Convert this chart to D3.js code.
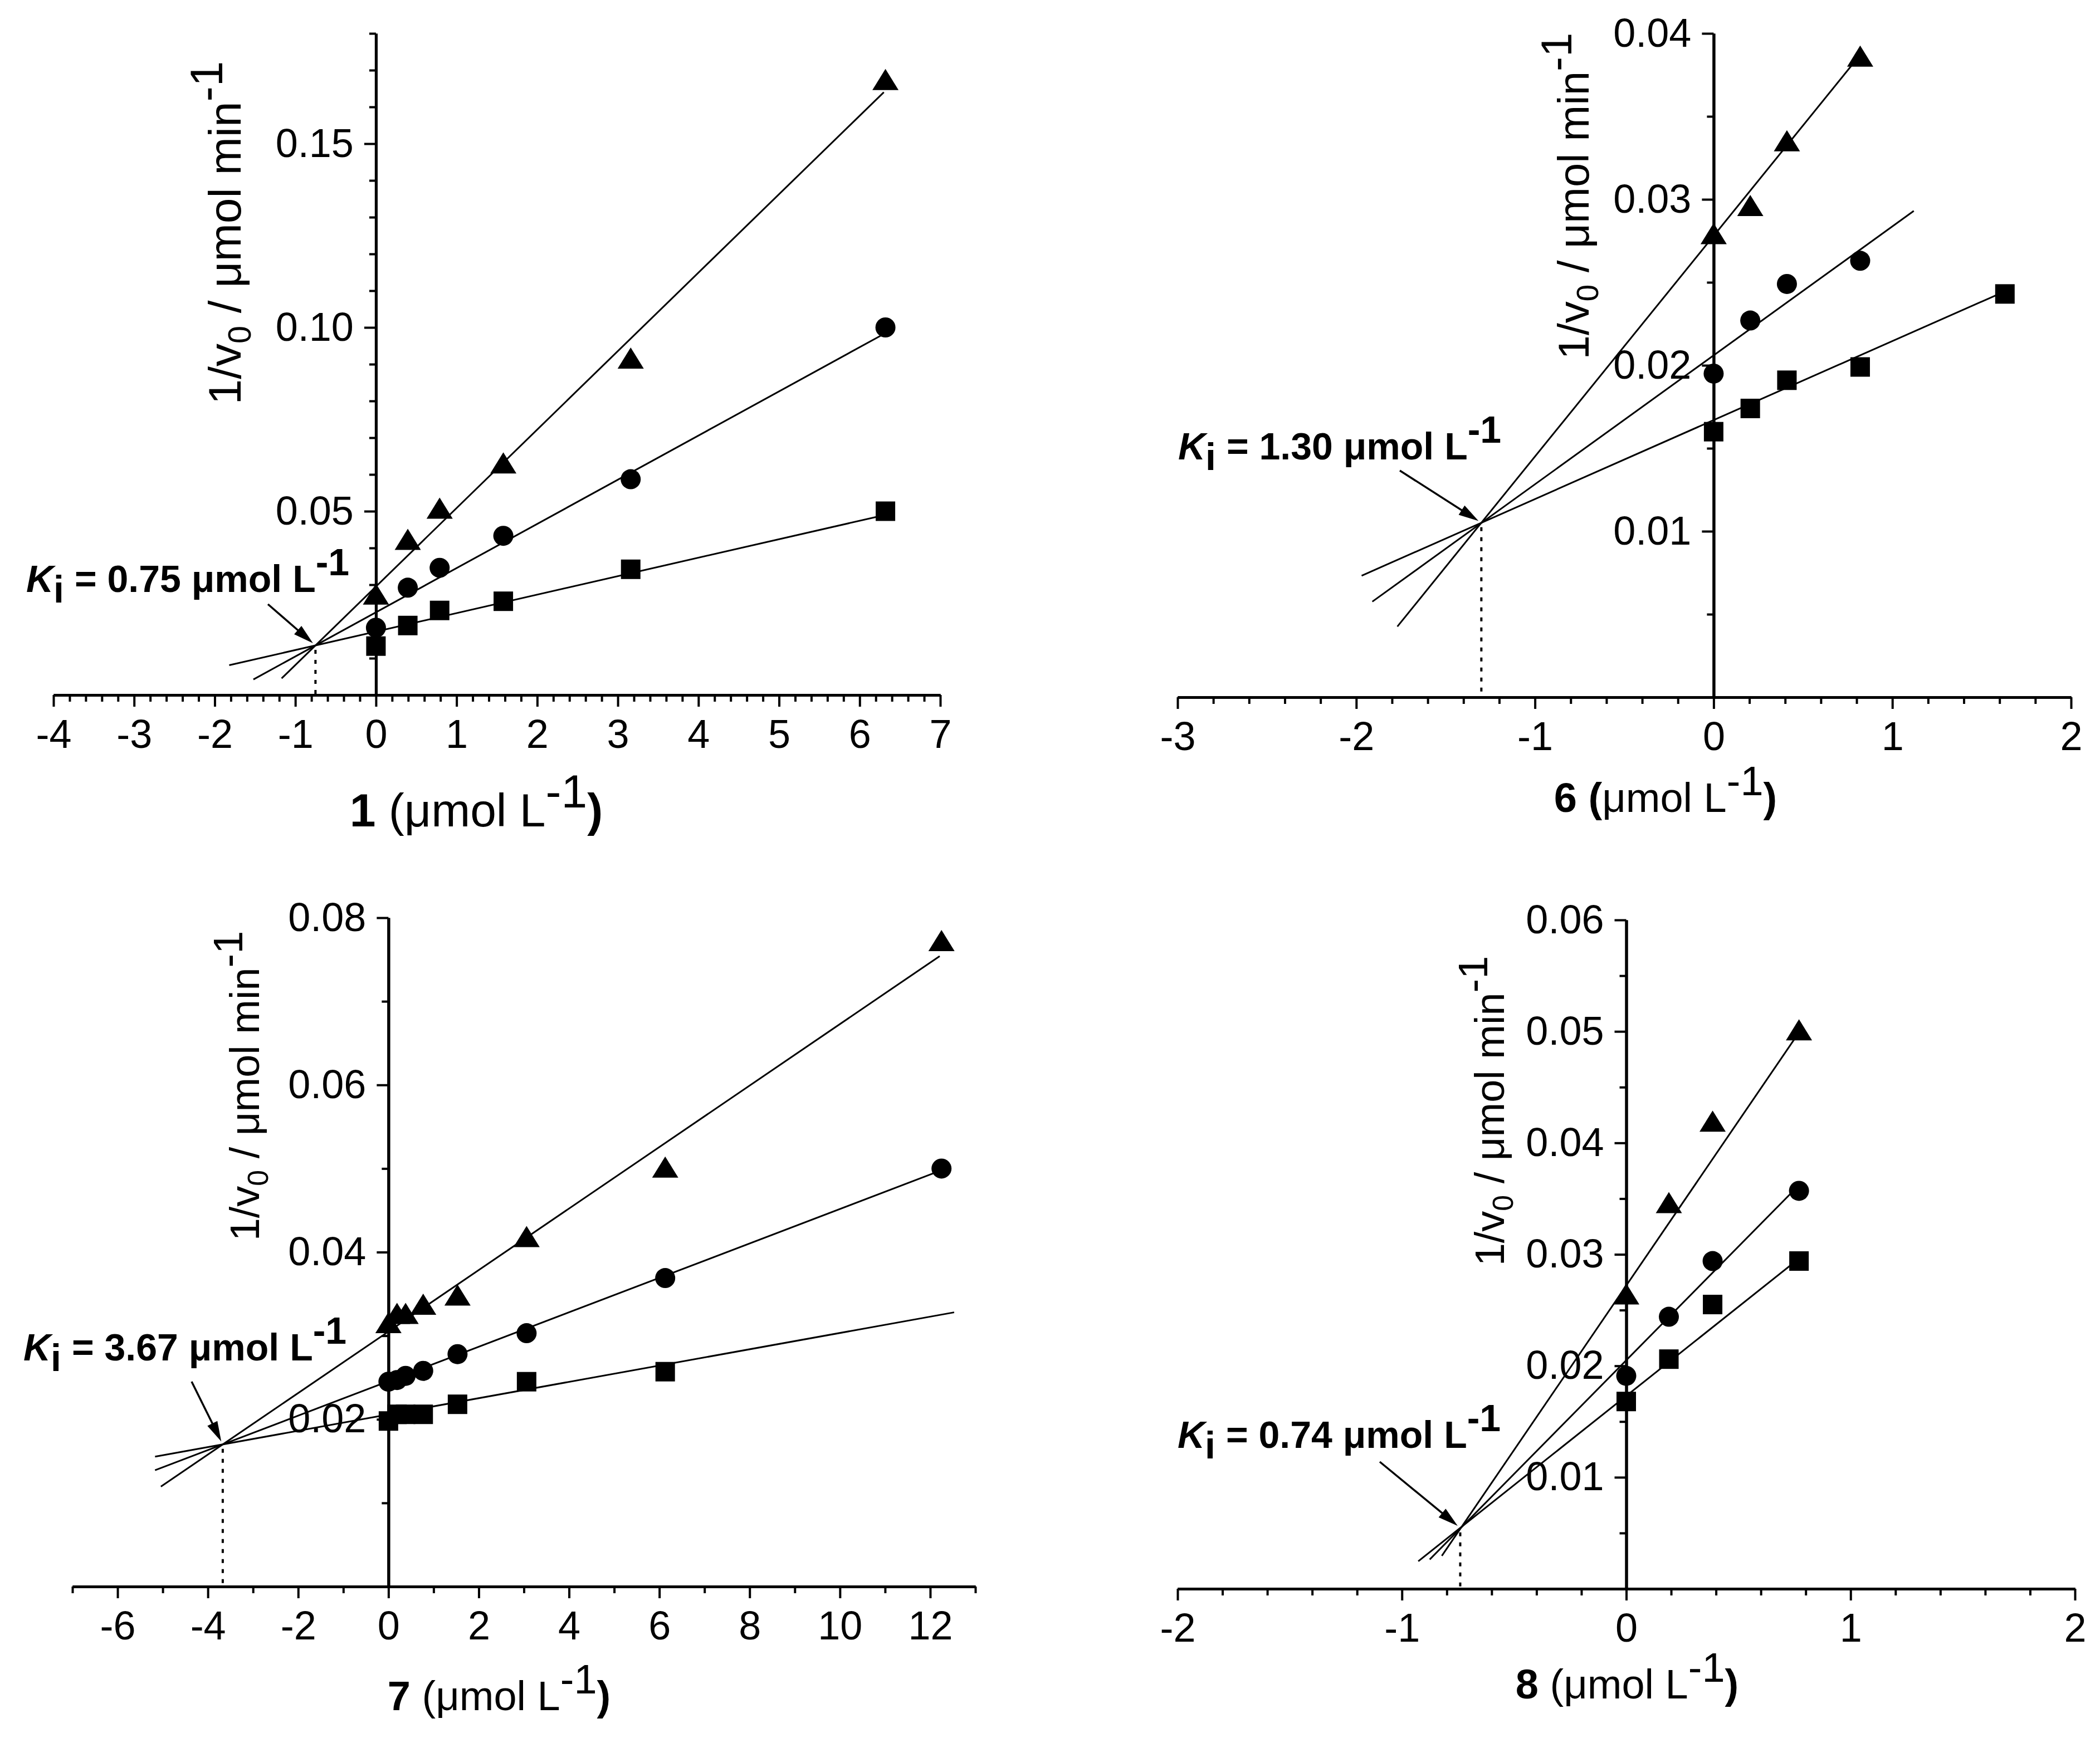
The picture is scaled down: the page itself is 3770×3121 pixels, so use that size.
<!DOCTYPE html>
<html>
<head>
<meta charset="utf-8">
<script src="https://cdn.jsdelivr.net/npm/d3@7"></script>
<style>
  body { margin: 0; background: #fff; }
  text { font-family: "Liberation Sans", Arial, Helvetica, sans-serif; }
</style>
</head>
<body>
<svg id="chart" width="3770" height="3121"></svg>
<script>
// ---- data (1/v0 vs inhibitor concentration) ----
// compound 1
const p1Conc = [0, 0.395, 0.79, 1.58, 3.16, 6.32];
const p1Tri = [0.0273, 0.0422, 0.0507, 0.0630, 0.0915, 0.1673];
const p1Cir = [0.0183, 0.0292, 0.0346, 0.0433, 0.0587, 0.1000];
const p1Sq = [0.0133, 0.0189, 0.0230, 0.0255, 0.0342, 0.0500];
const p1Slope = [0.02135, 0.01202, 0.005025];
const p1Icpt = [0.0295, 0.0225, 0.01725];
const p1From = [-1.17, -1.52, -1.82];
const p1To = [6.3, 6.3, 6.3];
const p1XTicks = [-4, -3, -2, -1, 0, 1, 2, 3, 4, 5, 6, 7];
const p1YTicks = [0.05, 0.10, 0.15];

// compound 6
const p6Conc = [0, 0.205, 0.41, 0.82, 1.63];
const p6Tri = [0.0279, 0.0296, 0.0335, 0.0386];
const p6Cir = [0.0195, 0.0227, 0.0249, 0.0263];
const p6Sq = [0.0160, 0.0174, 0.0191, 0.0199, 0.0243];
const p6Slope = [0.0133, 0.00777, 0.00476];
const p6Icpt = [0.0278, 0.0206, 0.0167];
const p6From = [-1.77, -1.91, -1.97];
const p6To = [0.82, 1.12, 1.62];
const p6XTicks = [-3, -2, -1, 0, 1, 2];
const p6YTicks = [0.01, 0.02, 0.03, 0.04];

// compound 7
const p7Conc = [0, 0.19, 0.38, 0.77, 1.53, 3.06, 6.13, 12.25];
const p7Tri = [0.0315, 0.0326, 0.0326, 0.0337, 0.0348, 0.0418, 0.0501, 0.0772];
const p7Cir = [0.0245, 0.0247, 0.0252, 0.0258, 0.0278, 0.0303, 0.0369, 0.0500];
const p7Sq = [0.0198, 0.0206, 0.0206, 0.0206, 0.0218, 0.0245, 0.0257];
const p7Slope = [0.003678, 0.00206, 0.000975];
const p7Icpt = [0.0305, 0.02456, 0.02058];
const p7From = [-5.04, -5.17, -5.17];
const p7To = [12.21, 12.21, 12.53];
const p7XTicks = [-6, -4, -2, 0, 2, 4, 6, 8, 10, 12];
const p7YTicks = [0.02, 0.04, 0.06, 0.08];

// compound 8
const p8Conc = [0, 0.19, 0.385, 0.77];
const p8Tri = [0.0264, 0.0346, 0.0419, 0.0501];
const p8Cir = [0.0191, 0.0244, 0.0294, 0.0357];
const p8Sq = [0.0168, 0.0206, 0.0255, 0.0294];
const p8Slope = [0.0295, 0.0204, 0.016];
const p8Icpt = [0.0272, 0.0205, 0.0173];
const p8From = [-0.822, -0.876, -0.927];
const p8To = [0.768, 0.768, 0.768];
const p8XTicks = [-2, -1, 0, 1, 2];
const p8YTicks = [0.01, 0.02, 0.03, 0.04, 0.05, 0.06];

const kiValues = [0.75, 1.30, 3.67, 0.74];
const kiLabels = ["0.75", "1.30", "3.67", "0.74"];
const compounds = ["1", "6", "7", "8"];

const panels = [
  { conc: p1Conc, tri: p1Tri, cir: p1Cir, sq: p1Sq, slope: p1Slope, icpt: p1Icpt, from: p1From, to: p1To,
    xTicks: p1XTicks, yTicks: p1YTicks, xDomain: [-4, 7], yDomain: [0, 0.18], xMinor: 0.2, yMinor: 0.01 },
  { conc: p6Conc, tri: p6Tri, cir: p6Cir, sq: p6Sq, slope: p6Slope, icpt: p6Icpt, from: p6From, to: p6To,
    xTicks: p6XTicks, yTicks: p6YTicks, xDomain: [-3, 2], yDomain: [0, 0.04], xMinor: 0.2, yMinor: 0.005 },
  { conc: p7Conc, tri: p7Tri, cir: p7Cir, sq: p7Sq, slope: p7Slope, icpt: p7Icpt, from: p7From, to: p7To,
    xTicks: p7XTicks, yTicks: p7YTicks, xDomain: [-7, 13], yDomain: [0, 0.08], xMinor: 1, yMinor: 0.01 },
  { conc: p8Conc, tri: p8Tri, cir: p8Cir, sq: p8Sq, slope: p8Slope, icpt: p8Icpt, from: p8From, to: p8To,
    xTicks: p8XTicks, yTicks: p8YTicks, xDomain: [-2, 2], yDomain: [0, 0.06], xMinor: 0.2, yMinor: 0.005 }
];

// ---- layout (pixels) ----
const layouts = [
  { xRange: [96, 1688], yRange: [1248, 60], yl: [432, 418, 82], xl: [855, 1484, 84], boldParen: false,
    ki: [47, 1063], arrow: [481, 1085] },
  { xRange: [2114, 3718], yRange: [1252, 60], yl: [2852, 352, 78], xl: [2990, 1458, 74], boldParen: true,
    ki: [2115, 825], arrow: [2513, 845] },
  { xRange: [130, 1751], yRange: [2849, 1648], yl: [465, 1950, 74], xl: [896, 3071, 74], boldParen: false,
    ki: [42, 2443], arrow: [344, 2481] },
  { xRange: [2114, 3725], yRange: [2853, 1652], yl: [2700, 1995, 74], xl: [2921, 3050, 74], boldParen: false,
    ki: [2114, 2600], arrow: [2477, 2625] }
];

const svg = d3.select("#chart");
svg.append("rect").attr("width", 3770).attr("height", 3121).attr("fill", "#fff");

const tickFont = 72;

function minorTicks(domain, step, majors) {
  const n = Math.round((domain[1] - domain[0]) / step);
  const out = [];
  for (let i = 0; i <= n; i++) {
    const v = +(domain[0] + i * step).toFixed(6);
    if (!majors.some(m => Math.abs(m - v) < step / 10)) out.push(v);
  }
  return out;
}

function styleAxis(sel) {
  sel.select(".domain").attr("stroke", "#000").attr("stroke-width", 5);
  sel.selectAll(".tick line").attr("stroke", "#000").attr("stroke-width", 4);
  sel.selectAll(".tick text").attr("fill", "#000");
  sel.attr("font-size", tickFont).attr("font-family", null);
}

function drawPanel(p, L, idx) {
  const x = d3.scaleLinear().domain(p.xDomain).range(L.xRange);
  const y = d3.scaleLinear().domain(p.yDomain).range(L.yRange);
  const g = svg.append("g");
  const x0 = x(0), y0 = y(0);

  // minor ticks
  g.append("g").attr("transform", `translate(0,${y0})`)
    .call(d3.axisBottom(x).tickValues(minorTicks(p.xDomain, p.xMinor, p.xTicks)).tickSize(12).tickSizeOuter(0).tickFormat(""))
    .call(styleAxis);
  g.append("g").attr("transform", `translate(${x0},0)`)
    .call(d3.axisLeft(y).tickValues(minorTicks(p.yDomain, p.yMinor, p.yTicks)).tickSize(12).tickSizeOuter(0).tickFormat(""))
    .call(styleAxis);

  // major ticks (plain hyphen for negatives, as in the original)
  g.append("g").attr("transform", `translate(0,${y0})`)
    .call(d3.axisBottom(x).tickValues(p.xTicks).tickSize(21).tickPadding(23).tickSizeOuter(0).tickFormat(d => String(d)))
    .call(styleAxis);
  g.append("g").attr("transform", `translate(${x0},0)`)
    .call(d3.axisLeft(y).tickValues(p.yTicks).tickSize(21).tickPadding(19).tickSizeOuter(0).tickFormat(d3.format(".2f")))
    .call(styleAxis);

  // fitted lines
  const line = d3.line().x(d => x(d[0])).y(d => y(d[1]));
  p.slope.forEach((s, i) => {
    const pts = [p.from[i], p.to[i]].map(v => [v, p.icpt[i] + s * v]);
    g.append("path").attr("d", line(pts)).attr("fill", "none").attr("stroke", "#000").attr("stroke-width", 3);
  });

  // intersection, dotted drop line
  const kx = -kiValues[idx];
  const ky = p.icpt[2] + p.slope[2] * kx;
  g.append("line")
    .attr("x1", x(kx)).attr("x2", x(kx)).attr("y1", y(ky) + 8).attr("y2", y0)
    .attr("stroke", "#000").attr("stroke-width", 4).attr("stroke-dasharray", "7,11");

  // markers
  const mk = g.append("g").attr("fill", "#000");
  p.sq.forEach((v, i) => mk.append("rect")
    .attr("x", x(p.conc[i]) - 17.5).attr("y", y(v) - 17.5).attr("width", 35).attr("height", 35));
  p.cir.forEach((v, i) => mk.append("circle")
    .attr("cx", x(p.conc[i])).attr("cy", y(v)).attr("r", 18));
  p.tri.forEach((v, i) => mk.append("path")
    .attr("transform", `translate(${x(p.conc[i])},${y(v)})`)
    .attr("d", "M0,-20L23.5,18L-23.5,18Z"));

  // Ki annotation + arrow
  const kt = g.append("text").attr("x", L.ki[0]).attr("y", L.ki[1])
    .attr("font-size", 68).attr("font-weight", "bold").attr("fill", "#000");
  kt.append("tspan").attr("font-style", "italic").text("K");
  kt.append("tspan").attr("dy", 19).text("i");
  kt.append("tspan").attr("dy", -19).text(` = ${kiLabels[idx]} μmol L`);
  kt.append("tspan").attr("dy", -30).text("-1");

  const ex = x(kx), ey = y(ky);
  const dx = ex - L.arrow[0], dy = ey - L.arrow[1];
  const len = Math.hypot(dx, dy);
  const ux = dx / len, uy = dy / len;
  const tipX = ex - ux * 6, tipY = ey - uy * 6;
  const head = 36, hw = 10;
  g.append("line").attr("x1", L.arrow[0]).attr("y1", L.arrow[1])
    .attr("x2", tipX - ux * head * 0.8).attr("y2", tipY - uy * head * 0.8)
    .attr("stroke", "#000").attr("stroke-width", 3.5);
  const bx = tipX - ux * head, by = tipY - uy * head;
  g.append("path").attr("fill", "#000")
    .attr("d", `M${tipX},${tipY}L${bx - uy * hw},${by + ux * hw}L${bx + uy * hw},${by - ux * hw}Z`);

  // y axis title
  const ys = L.yl[2];
  const yt = g.append("text").attr("transform", `translate(${L.yl[0]},${L.yl[1]}) rotate(-90)`)
    .attr("text-anchor", "middle").attr("font-size", ys).attr("fill", "#000");
  yt.append("tspan").text("1/v");
  yt.append("tspan").attr("font-size", ys * 0.7).attr("dy", ys * 0.22).text("0");
  yt.append("tspan").attr("dy", -ys * 0.22).text(" / μmol min");
  yt.append("tspan").attr("dy", -ys * 0.4).text("-1");

  // x axis title
  const xs = L.xl[2];
  const xt = g.append("text").attr("x", L.xl[0]).attr("y", L.xl[1])
    .attr("text-anchor", "middle").attr("font-size", xs).attr("fill", "#000");
  xt.append("tspan").attr("font-weight", "bold").text(compounds[idx]);
  xt.append("tspan").attr("font-weight", L.boldParen ? "bold" : "normal").text(" (");
  xt.append("tspan").attr("font-weight", "normal").text("μmol L");
  xt.append("tspan").attr("dy", -xs * 0.4).text("-1");
  xt.append("tspan").attr("dy", xs * 0.4).attr("font-weight", "bold").text(")");
}

panels.forEach((p, i) => drawPanel(p, layouts[i], i));
</script>
</body>
</html>
